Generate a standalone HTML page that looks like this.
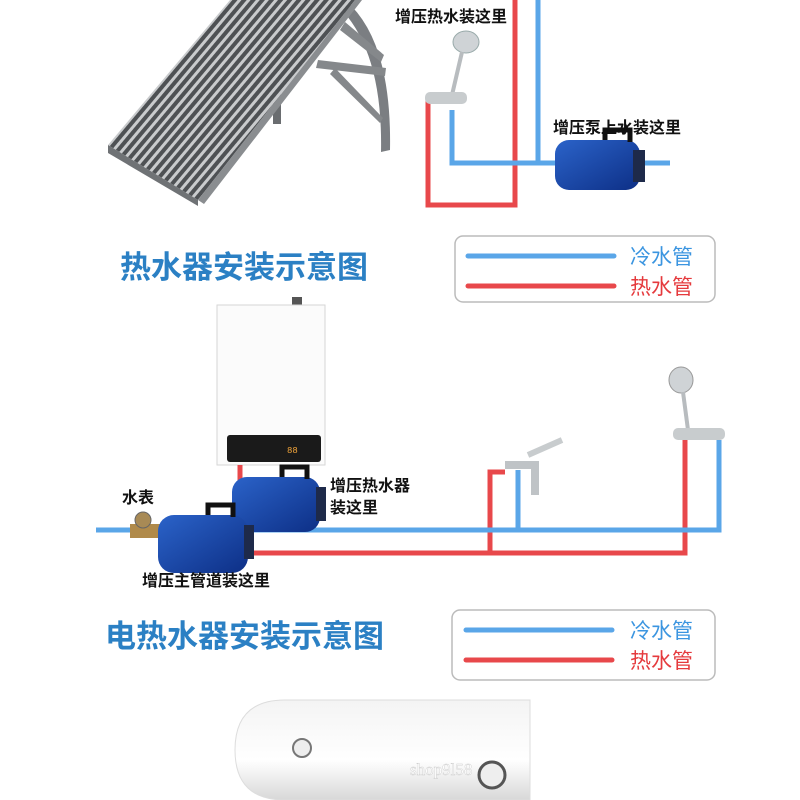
<!DOCTYPE html>
<html><head><meta charset="utf-8"><style>
body{margin:0;background:#fff;}
svg{display:block}
.t{font-family:"Liberation Sans","Noto Sans CJK SC",sans-serif;font-weight:bold;}
</style></head><body>
<svg width="800" height="800" viewBox="0 0 800 800" xmlns="http://www.w3.org/2000/svg">
<defs>
<pattern id="stripes" width="7" height="7" patternUnits="userSpaceOnUse" patternTransform="rotate(40)">
<rect width="7" height="7" fill="#4e5154"/><rect width="3" height="7" fill="#c9cbcd"/>
</pattern>
<linearGradient id="tank" x1="0" y1="0" x2="0" y2="1"><stop offset="0" stop-color="#f4f4f4"/><stop offset="0.6" stop-color="#fff"/><stop offset="1" stop-color="#d8d8d8"/></linearGradient>
<linearGradient id="pump" x1="0" y1="0" x2="1" y2="1"><stop offset="0" stop-color="#2b63c9"/><stop offset="1" stop-color="#0d2f86"/></linearGradient>
</defs>

<!-- solar stand -->
<path d="M345 0 Q392 40 390 150 L381 152 Q383 50 338 6 Z" fill="#7b7e82"/>
<path d="M345 22 L384 55 L381 62 L340 30 Z" fill="#85888b"/>
<path d="M318 60 L386 68 L385 76 L316 68 Z" fill="#85888b"/>
<path d="M335 68 L383 118 L380 123 L330 74 Z" fill="#85888b"/>
<rect x="273" y="92" width="8" height="32" fill="#6a6d70"/>
<!-- solar panel -->
<polygon points="108,145 198,200 355,0 230,0" fill="url(#stripes)"/>
<polygon points="198,200 355,0 362,0 204,204" fill="#8a8d90"/>
<polygon points="108,145 198,200 198,206 108,153" fill="#6f7275"/>

<!-- top pipes -->
<g fill="none" stroke-width="5">
<path d="M515 0 V205 H428 V100" stroke="#e8484b"/>
<path d="M538 0 V163 M670 163 H452 V110" stroke="#5aa6e8"/>
</g>
<!-- shower + faucet top -->
<ellipse cx="466" cy="42" rx="13" ry="11" fill="#cfd3d6" stroke="#9aa" />
<path d="M462 52 L452 95" stroke="#b8bcbf" stroke-width="4"/>
<rect x="425" y="92" width="42" height="12" rx="5" fill="#c8ccce"/>
<!-- top pump -->
<g transform="translate(555,128)"><rect x="0" y="12" width="85" height="50" rx="14" fill="url(#pump)"/><path d="M50 12 V2 H75 V14" stroke="#111" stroke-width="5" fill="none"/><rect x="78" y="22" width="12" height="32" fill="#1e2a4a"/></g>
<text class="t" x="395" y="22" font-size="16" fill="#111">增压热水装这里</text>
<text class="t" x="553" y="133" font-size="16" fill="#111">增压泵上水装这里</text>

<!-- title 1 -->
<text class="t" x="120" y="278" font-size="31" fill="#2b80c4">热水器安装示意图</text>
<!-- legend 1 -->
<rect x="455" y="236" width="260" height="66" rx="8" fill="#fff" stroke="#bbb" stroke-width="1.5"/>
<line x1="468" y1="256" x2="614" y2="256" stroke="#5aa6e8" stroke-width="5" stroke-linecap="round"/>
<line x1="468" y1="286" x2="614" y2="286" stroke="#e8484b" stroke-width="5" stroke-linecap="round"/>
<text class="t" x="630" y="264" font-size="21" fill="#3b95e0" style="font-weight:normal">冷水管</text>
<text class="t" x="630" y="294" font-size="21" fill="#e53a3d" style="font-weight:normal">热水管</text>

<!-- heater -->
<rect x="292" y="297" width="10" height="9" fill="#555"/>
<rect x="217" y="305" width="108" height="160" fill="#fbfbfb" stroke="#d6d6d6"/>
<rect x="227" y="435" width="94" height="27" rx="3" fill="#1a1a1a"/>
<text x="287" y="453" font-size="9" fill="#f2a53a" font-family="Liberation Mono">88</text>

<!-- middle pipes -->
<g fill="none" stroke-width="5">
<path d="M245 553 H685 V440" stroke="#e8484b"/>
<path d="M490 553 V472 H505" stroke="#e8484b"/>
<path d="M240 465 V530" stroke="#e8484b"/>
<path d="M96 530 H719 V440" stroke="#5aa6e8"/>
<path d="M518 530 V470" stroke="#5aa6e8"/>
</g>
<!-- faucet -->
<path d="M505 465 H535 V495" stroke="#bfc3c6" stroke-width="8" fill="none"/>
<path d="M528 455 L562 440" stroke="#c8ccce" stroke-width="6"/>
<!-- shower -->
<ellipse cx="681" cy="380" rx="12" ry="13" fill="#cfd3d6" stroke="#999"/>
<path d="M683 392 L688 430" stroke="#b8bcbf" stroke-width="4"/>
<rect x="673" y="428" width="52" height="12" rx="5" fill="#c8ccce"/>

<!-- meter -->
<rect x="130" y="524" width="32" height="14" fill="#b08a4a"/>
<circle cx="143" cy="520" r="8" fill="#a88a55" stroke="#666"/>
<!-- pumps -->
<g transform="translate(232,465)"><rect x="0" y="12" width="88" height="55" rx="15" fill="url(#pump)"/><path d="M50 12 V2 H75 V14" stroke="#111" stroke-width="5" fill="none"/><rect x="84" y="22" width="10" height="34" fill="#1e2a4a"/></g>
<g transform="translate(158,503)"><rect x="0" y="12" width="90" height="58" rx="16" fill="url(#pump)"/><path d="M50 12 V2 H75 V14" stroke="#111" stroke-width="5" fill="none"/><rect x="86" y="22" width="10" height="34" fill="#1e2a4a"/></g>

<text class="t" x="122" y="503" font-size="16" fill="#111">水表</text>
<text class="t" x="330" y="491" font-size="16" fill="#111">增压热水器</text>
<text class="t" x="330" y="513" font-size="16" fill="#111">装这里</text>
<text class="t" x="142" y="586" font-size="16" fill="#111">增压主管道装这里</text>

<!-- title 2 -->
<text class="t" x="105" y="647" font-size="31" fill="#2b80c4">电热水器安装示意图</text>
<rect x="452" y="610" width="263" height="70" rx="8" fill="#fff" stroke="#bbb" stroke-width="1.5"/>
<line x1="466" y1="630" x2="612" y2="630" stroke="#5aa6e8" stroke-width="5" stroke-linecap="round"/>
<line x1="466" y1="660" x2="612" y2="660" stroke="#e8484b" stroke-width="5" stroke-linecap="round"/>
<text class="t" x="630" y="638" font-size="21" fill="#3b95e0" style="font-weight:normal">冷水管</text>
<text class="t" x="630" y="668" font-size="21" fill="#e53a3d" style="font-weight:normal">热水管</text>

<!-- tank -->
<path d="M285 700 H530 V800 H285 Q235 800 235 750 Q235 700 285 700 Z" fill="url(#tank)" stroke="#ddd"/>
<circle cx="302" cy="748" r="9" fill="#eee" stroke="#777" stroke-width="2"/>
<circle cx="492" cy="775" r="13" fill="#eee" stroke="#555" stroke-width="3"/>
<text x="410" y="775" font-size="17" fill="#fff" stroke="#ccc" stroke-width="0.4" font-family="Liberation Serif">shop9l58</text>
</svg>
</body></html>
